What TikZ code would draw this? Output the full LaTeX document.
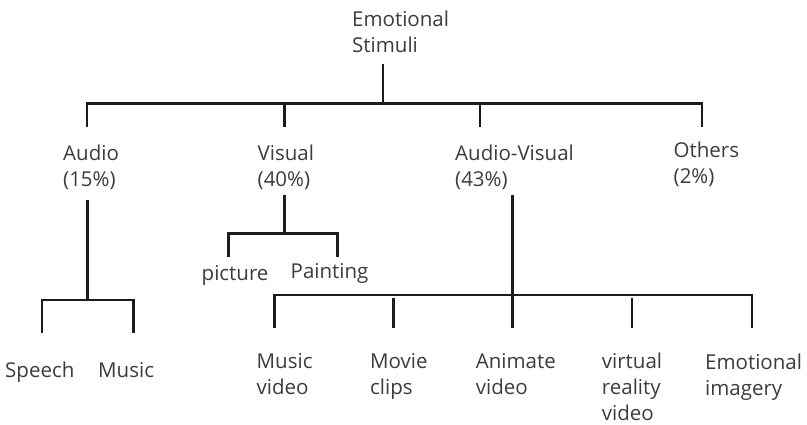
\documentclass[tikz,border=0pt]{standalone}
\usepackage{fontspec}
\setmainfont{Open Sans}
\definecolor{txt}{RGB}{60,60,60}
\definecolor{ln}{RGB}{28,28,28}
\begin{document}
\begin{tikzpicture}[x=1pt,y=-1pt,
  lbl/.style={anchor=base west, inner sep=0pt, align=left, text=txt,
              font=\fontsize{20.5}{26}\selectfont},
  conn/.style={draw=ln, line width=2.4pt, line join=miter}]
\useasboundingbox (0,0) rectangle (807,424);

% labels (placed by the baseline of their last line)
\node[lbl] (root)     at (352,52.7)   {Emotional\\Stimuli};
\node[lbl] (audio)    at (63,186)     {Audio\\(15\%)};
\node[lbl] (visual)   at (257.5,186)  {Visual\\(40\%)};
\node[lbl] (av)       at (455,186)    {Audio-Visual\\(43\%)};
\node[lbl] (others)   at (673.5,183.5){Others\\(2\%)};
\node[lbl] (picture)  at (201.5,280)  {picture};
\node[lbl] (painting) at (290.5,278.3){Painting};
\node[lbl] (speech)   at (5,377.3)    {Speech};
\node[lbl] (music)    at (98,377.3)   {Music};
\node[lbl] (musvid)   at (256.5,394.3){Music\\video};
\node[lbl] (movie)    at (370,394.3)  {Movie\\clips};
\node[lbl] (animate)  at (475.7,394.3){Animate\\video};
\node[lbl] (vr)       at (601.7,420.3){virtual\\reality\\video};
\node[lbl] (imagery)  at (705,395)    {Emotional\\imagery};

% junction points
\coordinate (root-out)     at (383,64);
\coordinate (root-bar)     at (383,103.3);
\coordinate (audio-top)    at (87,103.3);
\coordinate (audio-in)     at (87,127);
\coordinate (visual-top)   at (284.5,103.3);
\coordinate (visual-in)    at (284.5,127);
\coordinate (av-top)       at (480,103.3);
\coordinate (av-in)        at (480,127);
\coordinate (others-top)   at (702,103.3);
\coordinate (others-in)    at (702,127);

\coordinate (audio-out)    at (87.5,200);
\coordinate (audio-bar)    at (87.5,300);
\coordinate (speech-top)   at (42,300);
\coordinate (speech-in)    at (42,333);
\coordinate (music-top)    at (133.5,300);
\coordinate (music-in)     at (133.5,333);

\coordinate (visual-out)   at (284.5,195);
\coordinate (visual-bar)   at (284.5,233.5);
\coordinate (picture-top)  at (228.5,233.5);
\coordinate (picture-in)   at (228.5,257);
\coordinate (painting-top) at (337.5,233.5);
\coordinate (painting-in)  at (337.5,257);

\coordinate (av-out)       at (512.5,195);
\coordinate (musvid-top)   at (274.5,295);
\coordinate (musvid-in)    at (274.5,328);
\coordinate (movie-top)    at (393.5,298);
\coordinate (movie-in)     at (393.5,328);
\coordinate (animate-in)   at (512.5,328);
\coordinate (vr-top)       at (632,298);
\coordinate (vr-in)        at (632,328);
\coordinate (imagery-top)  at (752,295);
\coordinate (imagery-in)   at (752,328);

% top level
\draw[conn] (root-out) -- (root-bar);
\draw[conn] (audio-in) -- (audio-top) -- (others-top) -- (others-in);
\draw[conn] (visual-top) -- (visual-in);
\draw[conn] (av-top) -- (av-in);

% audio branch
\draw[conn] (audio-out) -- (audio-bar);
\draw[conn] (speech-in) -- (speech-top) -- (music-top) -- (music-in);

% visual branch
\draw[conn] (visual-out) -- (visual-bar);
\draw[conn] (picture-in) -- (picture-top) -- (painting-top) -- (painting-in);

% audio-visual branch
\draw[conn] (av-out) -- (animate-in);
\draw[conn] (musvid-in) -- (musvid-top) -- (imagery-top) -- (imagery-in);
\draw[conn] (movie-top) -- (movie-in);
\draw[conn] (vr-top) -- (vr-in);
\end{tikzpicture}
\end{document}
